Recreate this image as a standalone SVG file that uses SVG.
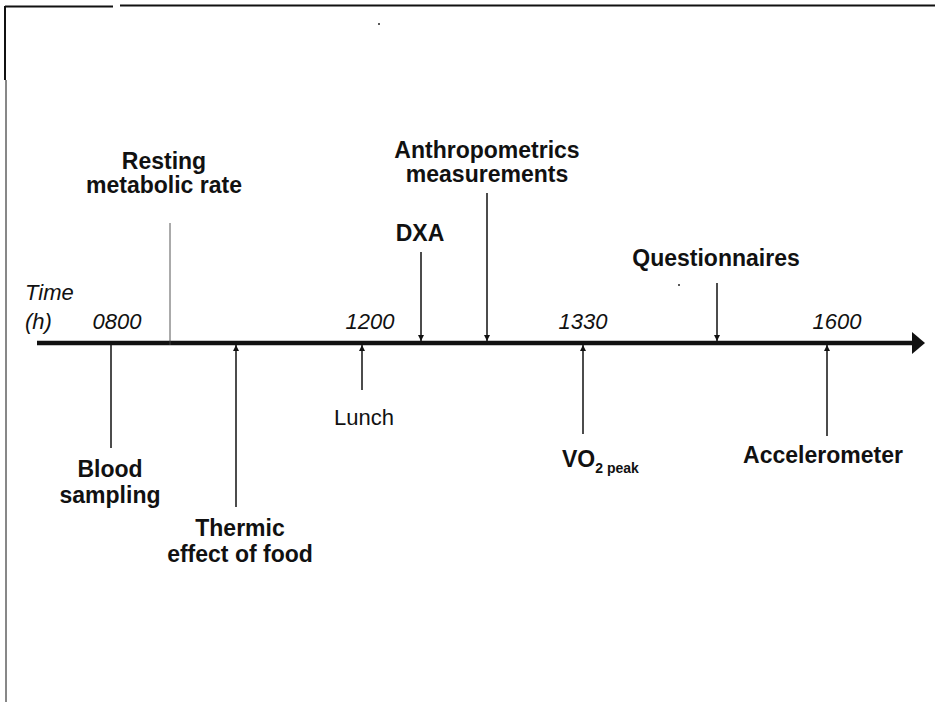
<svg xmlns="http://www.w3.org/2000/svg" width="935" height="702" viewBox="0 0 935 702">
  <defs>
    <style>
      .lbl { font-family: "Liberation Sans", Arial, Helvetica, sans-serif; font-weight: bold; font-size: 23px; fill: #111; text-anchor: middle; }
      .num { font-family: "Liberation Sans", Arial, Helvetica, sans-serif; font-style: italic; font-size: 22px; fill: #111; text-anchor: middle; }
      .reg { font-family: "Liberation Sans", Arial, Helvetica, sans-serif; font-size: 22px; fill: #111; text-anchor: middle; }
      .conn { stroke: #111; stroke-width: 1.5; fill: none; }
      .thin { stroke: #444; stroke-width: 0.9; fill: none; }
      .frame { stroke: #111; fill: none; }
    </style>
    <marker id="tip" viewBox="0 0 6 6" refX="6" refY="3" markerWidth="6" markerHeight="6" markerUnits="userSpaceOnUse" orient="auto">
      <path d="M0,0 L6,3 L0,6 Z" fill="#111"/>
    </marker>
    <marker id="axisHead" viewBox="0 0 13 22" refX="1" refY="11" markerWidth="13" markerHeight="22" markerUnits="userSpaceOnUse" orient="auto">
      <path d="M0,0 L13,11 L0,22 Z" fill="#111"/>
    </marker>
  </defs>

  <rect width="935" height="702" fill="#fff"/>

  <g id="frame">
    <line class="frame" x1="5" y1="6.5" x2="113" y2="6.5" stroke-width="2"/>
    <line class="frame" x1="120" y1="5.5" x2="935" y2="5.5" stroke-width="2"/>
    <line class="frame" x1="5" y1="6" x2="5" y2="80" stroke-width="2"/>
    <line class="frame" x1="6" y1="80" x2="6" y2="702" stroke-width="1"/>
    <circle cx="379" cy="24" r="1" fill="#222"/>
    <circle cx="679" cy="285" r="1" fill="#222"/>
  </g>

  <g id="axis">
    <line x1="37" y1="343" x2="913" y2="343" stroke="#111" stroke-width="4.5" marker-end="url(#axisHead)"/>
  </g>

  <g id="connectors">
    <line class="thin" x1="170" y1="223" x2="170" y2="345"/>
    <line class="conn" x1="421" y1="252" x2="421" y2="341" marker-end="url(#tip)"/>
    <line class="conn" x1="487" y1="193" x2="487" y2="341" marker-end="url(#tip)"/>
    <line class="conn" x1="717" y1="283" x2="717" y2="341" marker-end="url(#tip)"/>
    <line class="conn" x1="111" y1="345" x2="111" y2="448"/>
    <line class="conn" x1="236" y1="507" x2="236" y2="345" marker-end="url(#tip)"/>
    <line class="conn" x1="362" y1="390" x2="362" y2="345" marker-end="url(#tip)"/>
    <line class="conn" x1="583" y1="434" x2="583" y2="345" marker-end="url(#tip)"/>
    <line class="conn" x1="827" y1="436" x2="827" y2="345" marker-end="url(#tip)"/>
  </g>

  <g id="time-labels">
    <text class="num" x="25" y="300" text-anchor="start" style="text-anchor:start">Time</text>
    <text class="num" x="25" y="329" style="text-anchor:start">(h)</text>
    <text class="num" x="117" y="329">0800</text>
    <text class="num" x="370" y="329">1200</text>
    <text class="num" x="583" y="329">1330</text>
    <text class="num" x="837" y="329">1600</text>
  </g>

  <g id="resting-metabolic-rate">
    <text class="lbl" x="164" y="169">Resting</text>
    <text class="lbl" x="164" y="193">metabolic rate</text>
  </g>
  <g id="anthropometrics">
    <text class="lbl" x="487" y="158">Anthropometrics</text>
    <text class="lbl" x="487" y="182">measurements</text>
  </g>
  <g id="dxa">
    <text class="lbl" x="420" y="241">DXA</text>
  </g>
  <g id="questionnaires">
    <text class="lbl" x="716" y="266">Questionnaires</text>
  </g>
  <g id="blood-sampling">
    <text class="lbl" x="110" y="477">Blood</text>
    <text class="lbl" x="110" y="503">sampling</text>
  </g>
  <g id="thermic-effect">
    <text class="lbl" x="240" y="536">Thermic</text>
    <text class="lbl" x="240" y="562">effect of food</text>
  </g>
  <g id="lunch">
    <text class="reg" x="364" y="425">Lunch</text>
  </g>
  <g id="vo2peak">
    <text class="lbl" x="562" y="467" style="text-anchor:start">VO<tspan font-size="14" dy="6">2 peak</tspan></text>
  </g>
  <g id="accelerometer">
    <text class="lbl" x="823" y="463">Accelerometer</text>
  </g>
</svg>
